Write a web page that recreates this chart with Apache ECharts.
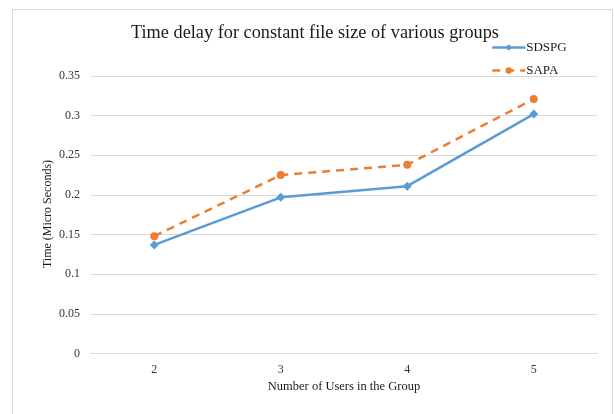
<!DOCTYPE html>
<html><head><meta charset="utf-8">
<script src="https://cdn.jsdelivr.net/npm/echarts@6/dist/echarts.min.js"></script>
<style>html,body{margin:0;padding:0;background:#fff}#c{width:614px;height:414px}</style>
</head><body><div id="c"></div>
<script>
const categories = ['2', '3', '4', '5'];
const sdspg = [0.137, 0.197, 0.211, 0.302];
const sapa = [0.148, 0.225, 0.238, 0.321];
const titleText = 'Time delay for constant file size of various groups';
const xName = 'Number of Users in the Group';
const yName = 'Time (Micro Seconds)';

const chart = echarts.init(document.getElementById('c'));
const serif = '"Liberation Serif", "DejaVu Serif", serif';
chart.setOption({
  backgroundColor: '#fff',
  animation: false,
  graphic: [{
    type: 'rect', shape: {x: 12.5, y: 9.5, width: 600, height: 420},
    style: {fill: 'none', stroke: '#d9d9d9', lineWidth: 1}, silent: true, z: -10
  }, {
    type: 'text', x: 48, y: 214, rotation: Math.PI / 2,
    style: {text: yName, font: '12px ' + serif, fill: '#1a1a1a', align: 'center', verticalAlign: 'middle'},
    silent: true
  }],
  title: {
    text: titleText, left: 126, top: 19,
    textStyle: {fontFamily: serif, fontSize: 18.3, fontWeight: 'normal', color: '#1a1a1a'}
  },
  legend: {
    orient: 'vertical', left: 486, top: 36, itemGap: 10, itemWidth: 33, itemHeight: 8,
    lineStyle: {width: 2.5},
    textStyle: {fontFamily: serif, fontSize: 13, color: '#1a1a1a', padding: [0,0,0,-4]},
    data: ['SDSPG', 'SAPA']
  },
  grid: {left: 91, right: 17, top: 76, bottom: 60.5, containLabel: false},
  xAxis: {
    type: 'category', data: categories, boundaryGap: true,
    name: xName, nameLocation: 'middle', nameGap: 24,
    nameTextStyle: {fontFamily: serif, fontSize: 12.5, color: '#1a1a1a'},
    axisLine: {lineStyle: {color: '#d9d9d9'}}, axisTick: {show: false},
    axisLabel: {fontFamily: serif, fontSize: 12, color: '#333', margin: 10}
  },
  yAxis: {
    type: 'value', min: 0, max: 0.35, interval: 0.05,
    axisLine: {show: false}, axisTick: {show: false},
    splitLine: {lineStyle: {color: '#d9d9d9'}},
    axisLabel: {fontFamily: serif, fontSize: 12, color: '#333', margin: 11,
      formatter: v => String(+v.toFixed(2))}
  },
  series: [{
    name: 'SDSPG', type: 'line', data: sdspg, symbol: 'diamond', symbolSize: 9,
    itemStyle: {color: '#5b9bd5'}, lineStyle: {color: '#5b9bd5', width: 2.5}
  }, {
    name: 'SAPA', type: 'line', data: sapa, symbol: 'circle', symbolSize: 8,
    itemStyle: {color: '#ed7d31'}, lineStyle: {color: '#ed7d31', width: 2.5, type: [8, 6]}
  }]
});
</script></body></html>
